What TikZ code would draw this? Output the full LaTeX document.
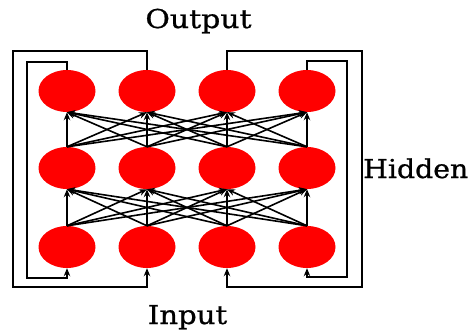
\documentclass[tikz,border=0pt]{standalone}
\usepackage{fontspec}
\setmainfont{DejaVu Serif}
\newfontfamily\lblfont[FakeBold=0.8]{DejaVu Serif}
\usetikzlibrary{arrows.meta,shapes.geometric}
\begin{document}
\begin{tikzpicture}[x=1pt,y=-1pt,
 neuron/.style={ellipse, fill=red, minimum width=57pt, minimum height=42pt, inner sep=0pt},
 conn/.style={-{Stealth[length=8pt,width=6.5pt]}, line width=1.6pt},
 lbl/.style={font=\lblfont\fontsize{26}{28}\selectfont, inner sep=0pt}]
\useasboundingbox (0,0) rectangle (472,333);
\foreach \i/\x in {1/67,2/147,3/227,4/307}{
  \node[neuron] (o\i) at (\x,91) {};
  \node[neuron] (h\i) at (\x,168) {};
  \node[neuron] (n\i) at (\x,247) {};
}
\foreach \a in {1,...,4}{
  \foreach \b in {1,...,4}{
    \draw[conn] (h\a.north) -- (o\b.south);
    \draw[conn] (n\a.north) -- (h\b.south);
  }
}
\coordinate (c1a) at (27,62); \coordinate (c1b) at (27,278);
\coordinate (c2a) at (13,51); \coordinate (c2b) at (13,287);
\coordinate (c3a) at (362,51); \coordinate (c3b) at (362,287);
\coordinate (c4a) at (347,61); \coordinate (c4b) at (347,277);
\draw[conn] (o1.north) -- (o1.north |- c1a) -- (c1a) -- (c1b) -- (n1.south |- c1b) -- (n1.south);
\draw[conn] (o2.north) -- (o2.north |- c2a) -- (c2a) -- (c2b) -- (n2.south |- c2b) -- (n2.south);
\draw[conn] (o3.north) -- (o3.north |- c3a) -- (c3a) -- (c3b) -- (n3.south |- c3b) -- (n3.south);
\draw[conn] (o4.north) -- (o4.north |- c4a) -- (c4a) -- (c4b) -- (n4.south |- c4b) -- (n4.south);
\node[lbl, anchor=base] (out) at (198.5,28) {\scalebox{1.15}[1]{Output}};
\node[lbl, anchor=base west] (hid) at (363,178) {\scalebox{1.09}[1]{Hidden}};
\node[lbl, anchor=base] (inp) at (187.5,324) {\scalebox{1.12}[1]{Input}};
\end{tikzpicture}
\end{document}
